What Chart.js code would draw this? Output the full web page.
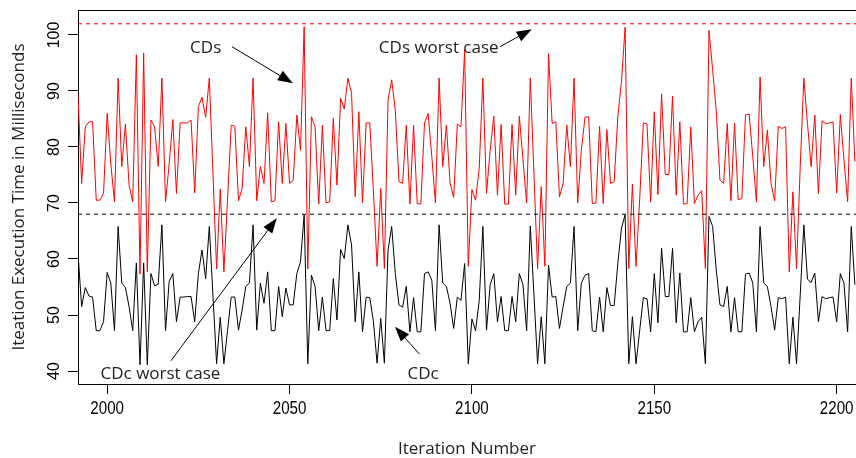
<!DOCTYPE html>
<html><head><meta charset="utf-8">
<script src="https://cdn.jsdelivr.net/npm/chart.js@4.4.1/dist/chart.umd.min.js"></script>
<style>html,body{margin:0;padding:0;background:#fff;overflow:hidden}#wrap{width:856px;height:458px;position:relative}</style>
</head><body><div id="wrap"><canvas id="c" width="856" height="458"></canvas></div>
<script>
// ---- data ----
const FIRST_ITERATION = 1992;
const cdsTimes = [
89.3,73.5,83.6,84.5,84.5,70.5,70.5,71.7,86.0,77.0,70.2,92.3,76.5,84.1,73.2,70.2,96.5,57.3,96.8,57.7,
84.8,83.6,76.5,92.3,70.2,77.0,84.9,71.7,84.3,84.3,84.3,84.8,71.8,87.2,88.9,85.3,92.3,75.3,58.2,72.5,
57.7,70.7,83.9,83.7,70.4,72.6,83.6,76.5,92.3,70.4,76.5,73.5,86.1,70.2,70.4,84.5,73.5,84.2,73.5,74.0,
85.7,79.4,101.5,58.2,85.4,83.6,69.8,83.9,70.0,70.2,85.1,73.2,88.7,86.8,92.3,89.6,71.1,86.3,70.0,84.3,
84.3,72.0,58.7,72.6,58.3,88.4,92.0,86.5,73.8,73.5,83.9,69.8,83.9,69.9,69.8,84.3,86.0,78.3,70.0,92.3,
76.5,83.9,73.6,71.0,84.1,83.6,97.3,58.7,72.4,70.5,76.2,92.3,71.7,79.4,85.5,71.4,84.0,69.8,69.8,84.0,
71.4,85.5,77.7,70.0,92.3,75.3,58.3,72.9,58.7,96.7,84.2,84.5,71.1,73.5,83.9,76.5,92.3,70.0,79.4,85.3,
85.4,69.9,70.0,83.7,69.9,83.1,73.5,73.8,85.4,91.7,101.4,58.3,73.4,58.7,70.8,84.3,84.1,70.2,86.3,71.5,
89.5,75.1,75.1,89.1,71.4,84.5,69.8,69.9,83.6,69.9,71.4,72.2,58.3,100.8,93.8,86.3,74.1,73.5,84.2,70.4,
84.3,70.6,70.8,85.7,85.9,78.3,70.2,92.5,76.5,83.0,73.5,70.4,83.7,83.3,83.6,57.7,72.0,58.3,76.4,92.3,
84.2,76.5,85.7,71.7,84.7,84.1,84.3,84.5,71.8,85.8,77.7,70.2,92.3,77.4
];
const cdcTimes = [
61.0,51.5,54.9,53.4,53.2,47.2,47.2,48.8,57.6,55.7,47.2,65.8,55.7,54.9,51.5,47.2,59.3,41.1,59.3,41.1,
57.4,55.2,55.5,66.1,47.2,56.0,57.4,48.8,53.2,53.2,53.3,53.3,48.8,57.4,61.6,56.5,65.8,53.5,41.3,49.6,
41.3,47.2,53.2,53.2,47.3,50.9,55.1,55.7,66.1,47.3,55.7,52.1,57.7,47.2,47.2,55.1,49.7,54.8,51.8,51.8,
57.4,59.5,67.9,41.3,57.1,55.1,47.2,53.2,47.2,47.2,56.5,49.1,61.7,60.1,66.1,62.5,48.8,57.7,47.0,53.2,
53.1,48.8,41.4,49.4,41.4,61.6,65.8,57.4,51.8,51.4,55.1,47.0,53.1,47.0,47.0,57.4,57.7,56.2,47.2,66.1,
55.7,55.1,52.1,47.6,53.2,52.6,59.2,41.3,49.3,47.2,52.6,65.8,47.3,55.4,57.4,48.8,53.3,47.2,47.2,53.3,
48.8,57.4,55.4,47.2,65.9,53.7,41.3,49.7,41.3,58.9,53.2,53.3,47.6,51.5,55.1,55.7,65.8,47.2,55.7,57.1,
57.4,47.2,47.0,53.2,47.0,54.9,51.7,51.7,59.2,65.5,67.9,41.3,49.7,41.3,47.3,53.1,52.9,47.0,57.4,48.6,
61.9,53.3,53.3,61.9,48.6,57.5,47.0,47.0,53.1,47.0,48.8,49.6,41.3,67.6,65.8,58.0,51.8,51.5,55.1,47.0,
53.1,47.0,47.0,57.3,57.5,55.7,47.0,65.8,55.7,55.1,51.5,47.3,53.1,52.9,53.2,41.3,49.6,41.3,53.5,66.1,
56.4,55.8,57.5,48.8,53.3,52.9,53.1,53.2,48.8,57.4,55.7,47.0,65.8,55.4
];
const CDS_WORST = 102;
const CDC_WORST = 68;
const xTickValues = [2000, 2050, 2100, 2150, 2200];
const yTickValues = [40, 50, 60, 70, 80, 90, 100];
const X_RANGE = [1992, 2205.3];
const Y_RANGE = [37.68, 104.46];
const xTitle = 'Iteration Number';
const yTitle = 'Iteation Execution Time in Milliseconds';
const notes = [
  {text: 'CDs', at: [2027.0, 97.62], from: [2034.2, 97.91], to: [2050.9, 91.37]},
  {text: 'CDs worst case', at: [2090.9, 97.62], from: [2107.7, 97.91], to: [2116.4, 101.02]},
  {text: 'CDc worst case', at: [2014.6, 39.38], from: [2017.5, 41.84], to: [2046.5, 67.27]},
  {text: 'CDc', at: [2086.6, 39.38], from: [2085.6, 43.03], to: [2078.9, 47.91]}
];

// ---- build ----
const toPoints = arr => arr.map((v, i) => ({x: FIRST_ITERATION + i, y: v}));
const hline = v => [{x: X_RANGE[0], y: v}, {x: X_RANGE[1], y: v}];
const ANNOT_FONT = '17px "Open Sans"';
const TICK_FAMILY = '"Liberation Sans", Arial, sans-serif';

function arrow(ctx, x1, y1, x2, y2) {
  const ang = Math.atan2(y2 - y1, x2 - x1);
  const L = 15, W = 5.5;
  const bx = x2 - L * Math.cos(ang), by = y2 - L * Math.sin(ang);
  ctx.beginPath(); ctx.moveTo(x1, y1); ctx.lineTo(bx, by); ctx.stroke();
  ctx.beginPath();
  ctx.moveTo(x2, y2);
  ctx.lineTo(bx + W * Math.sin(ang), by - W * Math.cos(ang));
  ctx.lineTo(bx - W * Math.sin(ang), by + W * Math.cos(ang));
  ctx.closePath(); ctx.fill();
}

const overlay = {
  id: 'overlay',
  afterDraw(chart) {
    const {ctx, chartArea: a, scales: {x, y}} = chart;
    ctx.save();
    ctx.strokeStyle = '#000'; ctx.fillStyle = '#000'; ctx.lineWidth = 1;
    ctx.beginPath(); ctx.moveTo(a.left, a.top + 0.5); ctx.lineTo(a.right, a.top + 0.5); ctx.stroke();
    // y tick labels (rotated, R style)
    ctx.font = '16px ' + TICK_FAMILY; ctx.textAlign = 'center'; ctx.textBaseline = 'middle';
    yTickValues.forEach(v => {
      ctx.save(); ctx.translate(a.left - 23, y.getPixelForValue(v)); ctx.rotate(-Math.PI / 2);
      ctx.fillText(String(v), 0, 0); ctx.restore();
    });
    // x tick labels (condensed)
    ctx.font = '18px ' + TICK_FAMILY;
    xTickValues.forEach(v => {
      ctx.save(); ctx.translate(x.getPixelForValue(v), a.bottom + 25); ctx.scale(0.84, 1);
      ctx.fillText(String(v), 0, 0); ctx.restore();
    });
    // axis titles
    ctx.font = '17px "Open Sans"';
    ctx.fillStyle = '#222';
    ctx.fillText(xTitle, (a.left + a.right) / 2, 449);
    ctx.save(); ctx.translate(19, (a.top + a.bottom) / 2); ctx.rotate(-Math.PI / 2);
    ctx.fillText(yTitle, 0, 0); ctx.restore();
    // annotations
    ctx.font = ANNOT_FONT;
    notes.forEach(n => {
      ctx.fillStyle = '#222';
      ctx.fillText(n.text, x.getPixelForValue(n.at[0]), y.getPixelForValue(n.at[1]));
      ctx.fillStyle = '#000';
      arrow(ctx, x.getPixelForValue(n.from[0]), y.getPixelForValue(n.from[1]),
                 x.getPixelForValue(n.to[0]), y.getPixelForValue(n.to[1]));
    });
    ctx.restore();
  }
};

new Chart(document.getElementById('c'), {
  type: 'line',
  data: {
    datasets: [
      {label: 'CDs worst case', data: hline(CDS_WORST), borderColor: '#ff0000', borderWidth: 1, borderDash: [4, 4], pointRadius: 0},
      {label: 'CDc worst case', data: hline(CDC_WORST), borderColor: '#000000', borderWidth: 1, borderDash: [4, 4], pointRadius: 0},
      {label: 'CDs', data: toPoints(cdsTimes), borderColor: '#ff0000', borderWidth: 1, pointRadius: 0, tension: 0},
      {label: 'CDc', data: toPoints(cdcTimes), borderColor: '#000000', borderWidth: 1, pointRadius: 0, tension: 0}
    ]
  },
  options: {
    responsive: false, animation: false, devicePixelRatio: 1,
    layout: {padding: {left: 0, right: 0, top: 10, bottom: 0}},
    plugins: {legend: {display: false}, tooltip: {enabled: false}},
    scales: {
      x: {
        type: 'linear', min: X_RANGE[0], max: X_RANGE[1],
        afterFit: s => { s.height = 74; },
        afterBuildTicks: s => { s.ticks = xTickValues.map(v => ({value: v})); },
        grid: {drawOnChartArea: false, drawTicks: true, tickLength: 10, color: '#000', tickWidth: 1},
        border: {display: true, color: '#000', width: 1},
        ticks: {display: false}
      },
      y: {
        type: 'linear', min: Y_RANGE[0], max: Y_RANGE[1],
        afterFit: s => { s.width = 78; },
        afterBuildTicks: s => { s.ticks = yTickValues.map(v => ({value: v})); },
        grid: {drawOnChartArea: false, drawTicks: true, tickLength: 10, color: '#000', tickWidth: 1},
        border: {display: true, color: '#000', width: 1},
        ticks: {display: false}
      }
    }
  },
  plugins: [overlay]
});
</script></body></html>
